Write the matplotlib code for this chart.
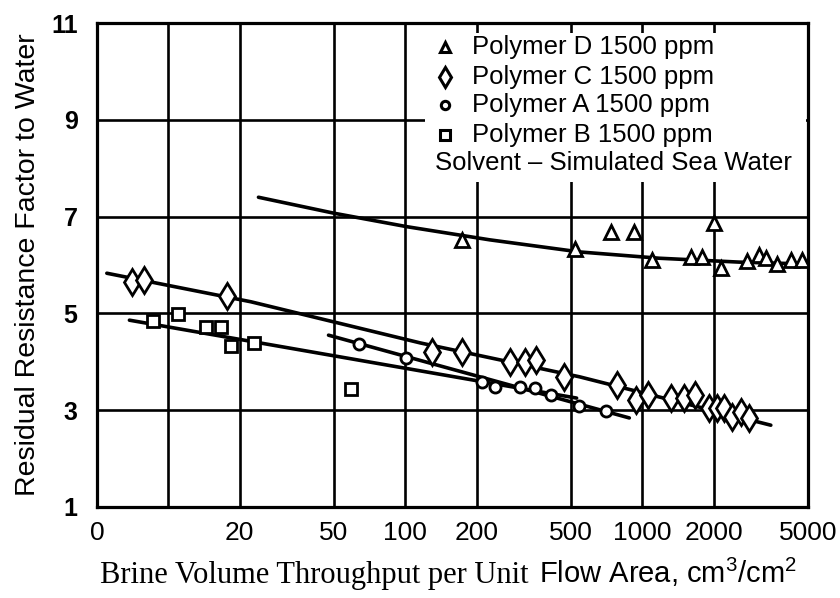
import matplotlib
matplotlib.use("Agg")
import matplotlib.pyplot as plt
from matplotlib.patches import Rectangle
from matplotlib.ticker import FixedLocator, FixedFormatter, NullLocator

plt.rcParams["font.family"] = ["Liberation Sans", "DejaVu Sans"]
plt.rcParams["mathtext.fontset"] = "custom"
plt.rcParams["mathtext.rm"] = "Liberation Sans"

# Polymer D 1500 ppm (triangles)
d_x = [173, 518, 741, 925, 1102, 1607, 1786, 2009, 2147, 2760, 3105, 3321, 3689, 4227, 4700]
d_y = [6.52, 6.33, 6.68, 6.68, 6.10, 6.17, 6.17, 6.87, 5.94, 6.08, 6.21, 6.14, 6.02, 6.10, 6.10]
d_fit_x = [24, 50, 102, 227, 543, 1178, 2557, 4930]
d_fit_y = [7.40, 7.07, 6.79, 6.52, 6.27, 6.14, 6.06, 6.02]

# Polymer C 1500 ppm (diamonds)
c_x = [7.0, 7.9, 17.7, 130, 173, 276, 319, 355, 466, 778, 944, 1059, 1324,
       1500, 1670, 1914, 2065, 2211, 2388, 2604, 2817]
c_y = [5.65, 5.69, 5.36, 4.20, 4.20, 4.00, 4.00, 4.04, 3.69, 3.52, 3.21, 3.31, 3.25,
       3.25, 3.31, 3.05, 3.05, 3.05, 2.86, 2.96, 2.84]
c_fit_x = [5.5, 22.3, 115.6, 543, 3484]
c_fit_y = [5.83, 5.24, 4.39, 3.69, 2.69]

# Polymer A 1500 ppm (circles)
a_x = [63.5, 101, 211, 239, 304, 352, 410, 543, 700]
a_y = [4.37, 4.08, 3.58, 3.48, 3.48, 3.46, 3.31, 3.09, 2.98]
a_fit_x = [47.4, 881]
a_fit_y = [4.55, 2.84]

# Polymer B 1500 ppm (squares)
b_x = [8.65, 11.0, 14.4, 16.7, 18.4, 23.0, 58.7]
b_y = [4.84, 4.99, 4.72, 4.72, 4.33, 4.39, 3.44]
b_fit_x = [6.85, 528]
b_fit_y = [4.86, 3.25]

x_ticks = [5, 10, 20, 50, 100, 200, 500, 1000, 2000, 5000]
x_labels = ["0", "", "20", "50", "100", "200", "500", "1000", "2000", "5000"]
y_ticks = [1, 3, 5, 7, 9, 11]

fig = plt.figure(figsize=(8.4, 5.98), dpi=100)
ax = fig.add_axes([0.1155, 0.1522, 0.8464, 0.8093])

ax.set_xscale("log")
ax.set_xlim(5, 5000)
ax.set_ylim(1, 11)
ax.xaxis.set_major_locator(FixedLocator(x_ticks))
ax.xaxis.set_major_formatter(FixedFormatter(x_labels))
ax.xaxis.set_minor_locator(NullLocator())
ax.set_yticks(y_ticks)
ax.grid(True, color="black", lw=1.9)
ax.set_axisbelow(True)
for s in ax.spines.values():
    s.set_linewidth(2.3)
ax.tick_params(axis="both", length=0)
ax.tick_params(axis="x", pad=10, labelsize=19)
ax.tick_params(axis="y", pad=14, labelsize=18)
for lab in ax.get_yticklabels():
    lab.set_fontweight("bold")

line_kw = dict(color="black", lw=2.6, solid_capstyle="round", zorder=2)
mk_kw = dict(ls="none", mfc="white", mec="black", mew=2.0, zorder=4)

ax.plot(d_fit_x, d_fit_y, **line_kw)
ax.plot(c_fit_x, c_fit_y, **line_kw)
ax.plot(a_fit_x, a_fit_y, **line_kw)
ax.plot(b_fit_x, b_fit_y, **line_kw)

ax.plot(d_x, d_y, marker="^", ms=10.5, **mk_kw)
ax.plot(c_x, c_y, marker="d", ms=13, **mk_kw)
ax.plot(a_x, a_y, marker="o", ms=8, **mk_kw)
ax.plot(b_x, b_y, marker="s", ms=9, **mk_kw)

# legend block drawn by hand, white box over the grid
ax.add_patch(Rectangle((0.461, 0.671), 0.536, 0.308, transform=ax.transAxes,
                       facecolor="white", edgecolor="none", zorder=3))
leg_rows = [("^", 7.5, "Polymer D 1500 ppm"),
            ("d", 10, "Polymer C 1500 ppm"),
            ("o", 6, "Polymer A 1500 ppm"),
            ("s", 6.5, "Polymer B 1500 ppm")]
row_y = [0.950, 0.888, 0.831, 0.769]
for (m, ms, txt), yy in zip(leg_rows, row_y):
    ax.plot([0.489], [yy], marker=m, ms=ms, transform=ax.transAxes,
            mfc="white", mec="black", mew=2.2, zorder=5, clip_on=False)
    ax.text(0.527, yy, txt, transform=ax.transAxes, fontsize=18.5,
            va="center", ha="left", zorder=5)
ax.text(0.475, 0.711, "Solvent \u2013 Simulated Sea Water", transform=ax.transAxes,
        fontsize=18.5, va="center", ha="left", zorder=5)

ax.set_ylabel("Residual Resistance Factor to Water", fontsize=20.5, labelpad=7)

# x label: serif first half, sans second half
t1 = fig.text(0.119, 0.025, "Brine Volume Throughput per Unit",
              family="Liberation Serif", fontsize=22, va="baseline", ha="left")
renderer = fig.canvas.get_renderer()
bb = t1.get_window_extent(renderer)
x2 = fig.transFigure.inverted().transform((bb.x1, bb.y0))[0]
fig.text(x2 + 0.012, 0.025, r"Flow Area, cm$^{3}$/cm$^{2}$", fontsize=21,
         va="baseline", ha="left")

fig.savefig("out.png", dpi=100)
